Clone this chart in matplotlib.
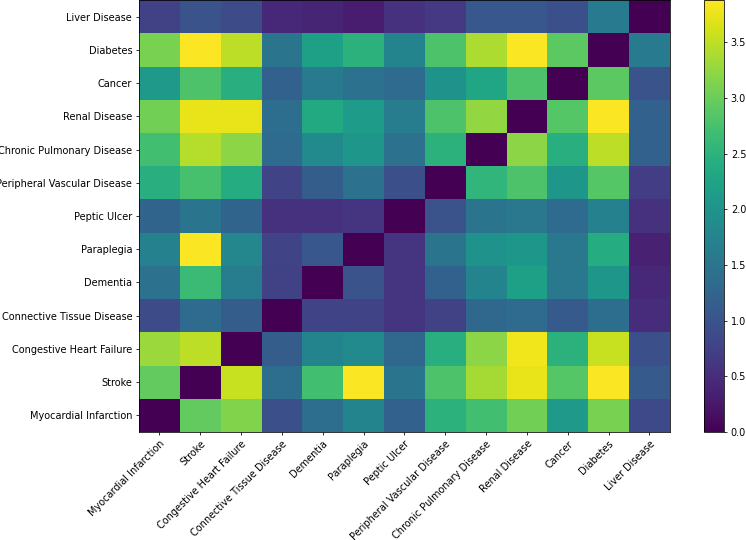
import matplotlib
matplotlib.use('Agg')
import matplotlib.pyplot as plt
import numpy as np

diseases = ['Myocardial Infarction', 'Stroke', 'Congestive Heart Failure',
            'Connective Tissue Disease', 'Dementia', 'Paraplegia', 'Peptic Ulcer',
            'Peripheral Vascular Disease', 'Chronic Pulmonary Disease',
            'Renal Disease', 'Cancer', 'Diabetes', 'Liver Disease']

# one row per disease, bottom row first (same order as diseases)
mi =       [0.0, 2.95, 3.15, 0.95, 1.4, 1.75, 1.2, 2.5, 2.7, 3.05, 2.1, 3.1, 0.85]
stroke =   [2.95, 0.0, 3.55, 1.4, 2.7, 3.85, 1.5, 2.8, 3.35, 3.75, 2.85, 3.85, 1.1]
chf =      [3.3, 3.5, 0.0, 1.15, 1.75, 1.85, 1.3, 2.45, 3.2, 3.8, 2.5, 3.55, 0.95]
ctd =      [0.9, 1.35, 1.15, 0.0, 0.8, 0.8, 0.6, 0.75, 1.3, 1.35, 1.1, 1.4, 0.5]
dementia = [1.45, 2.65, 1.65, 0.75, 0.0, 1.0, 0.6, 1.2, 1.75, 2.2, 1.55, 2.05, 0.45]
para =     [1.7, 3.85, 1.8, 0.8, 1.05, 0.0, 0.6, 1.5, 2.0, 2.05, 1.55, 2.4, 0.35]
peptic =   [1.25, 1.5, 1.25, 0.55, 0.55, 0.6, 0.0, 1.0, 1.5, 1.55, 1.35, 1.7, 0.55]
pvd =      [2.45, 2.75, 2.4, 0.8, 1.15, 1.45, 0.95, 0.0, 2.55, 2.8, 2.05, 2.85, 0.7]
copd =     [2.7, 3.45, 3.2, 1.35, 1.85, 2.05, 1.45, 2.5, 0.0, 3.2, 2.45, 3.5, 1.2]
renal =    [3.05, 3.75, 3.75, 1.4, 2.35, 2.15, 1.65, 2.8, 3.25, 0.0, 2.85, 3.85, 1.2]
cancer =   [2.1, 2.8, 2.45, 1.2, 1.6, 1.45, 1.35, 2.0, 2.3, 2.8, 0.0, 2.9, 1.0]
diabetes = [3.1, 3.85, 3.5, 1.5, 2.2, 2.5, 1.75, 2.8, 3.4, 3.85, 2.9, 0.0, 1.6]
liver =    [0.75, 1.0, 0.9, 0.45, 0.4, 0.3, 0.55, 0.65, 1.05, 1.05, 0.95, 1.6, 0.0]

matrix = np.array([mi, stroke, chf, ctd, dementia, para, peptic, pvd,
                   copd, renal, cancer, diabetes, liver])

# the original looks like a bigger figure shrunk down, so render at low dpi
dpi = 70
fig = plt.figure(figsize=(746 / dpi, 540 / dpi), dpi=dpi)
ax = fig.add_axes([0.1863, 0.2, 0.7117, 0.8])
cax = fig.add_axes([0.9437, 0.2, 0.0268, 0.8])

im = ax.imshow(matrix, cmap='viridis', origin='lower', aspect='auto',
               vmin=0, vmax=3.88)
ax.set_xticks(range(len(diseases)))
ax.set_xticklabels(diseases, rotation=45, ha='right', rotation_mode='anchor')
ax.set_yticks(range(len(diseases)))
ax.set_yticklabels(diseases)

fig.colorbar(im, cax=cax)

fig.savefig('out.png', dpi=dpi)
